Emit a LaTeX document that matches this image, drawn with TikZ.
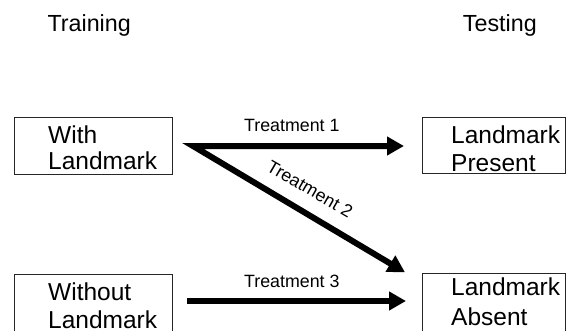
\documentclass[tikz,border=0pt]{standalone}
\usepackage{fontspec}
\setmainfont{Liberation Sans}
\usetikzlibrary{arrows.meta}
\tikzset{
  boxnode/.style={draw=black!85, line width=0.9pt, rectangle, inner sep=0pt},
  boxtext/.style={anchor=base west, inner sep=0pt, font=\fontsize{24.5}{28}\selectfont},
  headtext/.style={anchor=base west, inner sep=0pt, font=\fontsize{23.3}{28}\selectfont},
  treattext/.style={anchor=base west, inner sep=0pt, font=\fontsize{17.8}{21}\selectfont},
  fatarrow/.style={line width=6pt, line join=miter,
    arrows={-{Triangle[length=17pt,width=18pt]}}},
}
\begin{document}
\begin{tikzpicture}[x=1pt,y=-1pt]
\useasboundingbox (0,0) rectangle (566,330);
\clip (0,0) rectangle (566,330);

% headings
\node[headtext] (training) at (47.3,31) {Training};
\node[headtext] (testing) at (462.7,31.5) {Testing};

% boxes
\node[boxnode, minimum width=158pt, minimum height=57pt] (with) at (93,145.5) {};
\node[boxnode, minimum width=143pt, minimum height=56.5pt] (present) at (493.5,145.25) {};
\node[boxnode, minimum width=158pt, minimum height=60pt] (without) at (93,304) {};
\node[boxnode, minimum width=143pt, minimum height=60pt] (absent) at (493.5,303) {};

% box texts
\node[boxtext] (t1a) at (48,143) {With};
\node[boxtext] (t1b) at (48,169.5) {Landmark};
\node[boxtext] (t2a) at (451,143) {Landmark};
\node[boxtext] (t2b) at (451,171) {Present};
\node[boxtext] (t3a) at (48,300.5) {Without};
\node[boxtext] (t3b) at (48,328) {Landmark};
\node[boxtext] (t4a) at (451,295) {Landmark};
\node[boxtext] (t4b) at (451,325) {Absent};

% arrow coordinates
\coordinate (v) at (193,146);
\coordinate (e1) at (404,146);
\coordinate (e2) at (405,272.3);
\coordinate (s3) at (187,301);
\coordinate (e3) at (406,301);

% arrows
\draw[fatarrow, arrows={{Triangle[length=17pt,width=18pt]}-{Triangle[length=17pt,width=18pt]}}] (e2) -- (v) -- (e1);
\draw[fatarrow] (s3) -- (e3);

% treatment labels
\node[treattext] (tr1) at (244,131) {Treatment 1};
\node[treattext] (tr3) at (244,287) {Treatment 3};
\node[inner sep=0pt, font=\fontsize{17.8}{21}\selectfont, rotate=-30] (tr2) at (310,189) {Treatment 2};
\end{tikzpicture}
\end{document}
